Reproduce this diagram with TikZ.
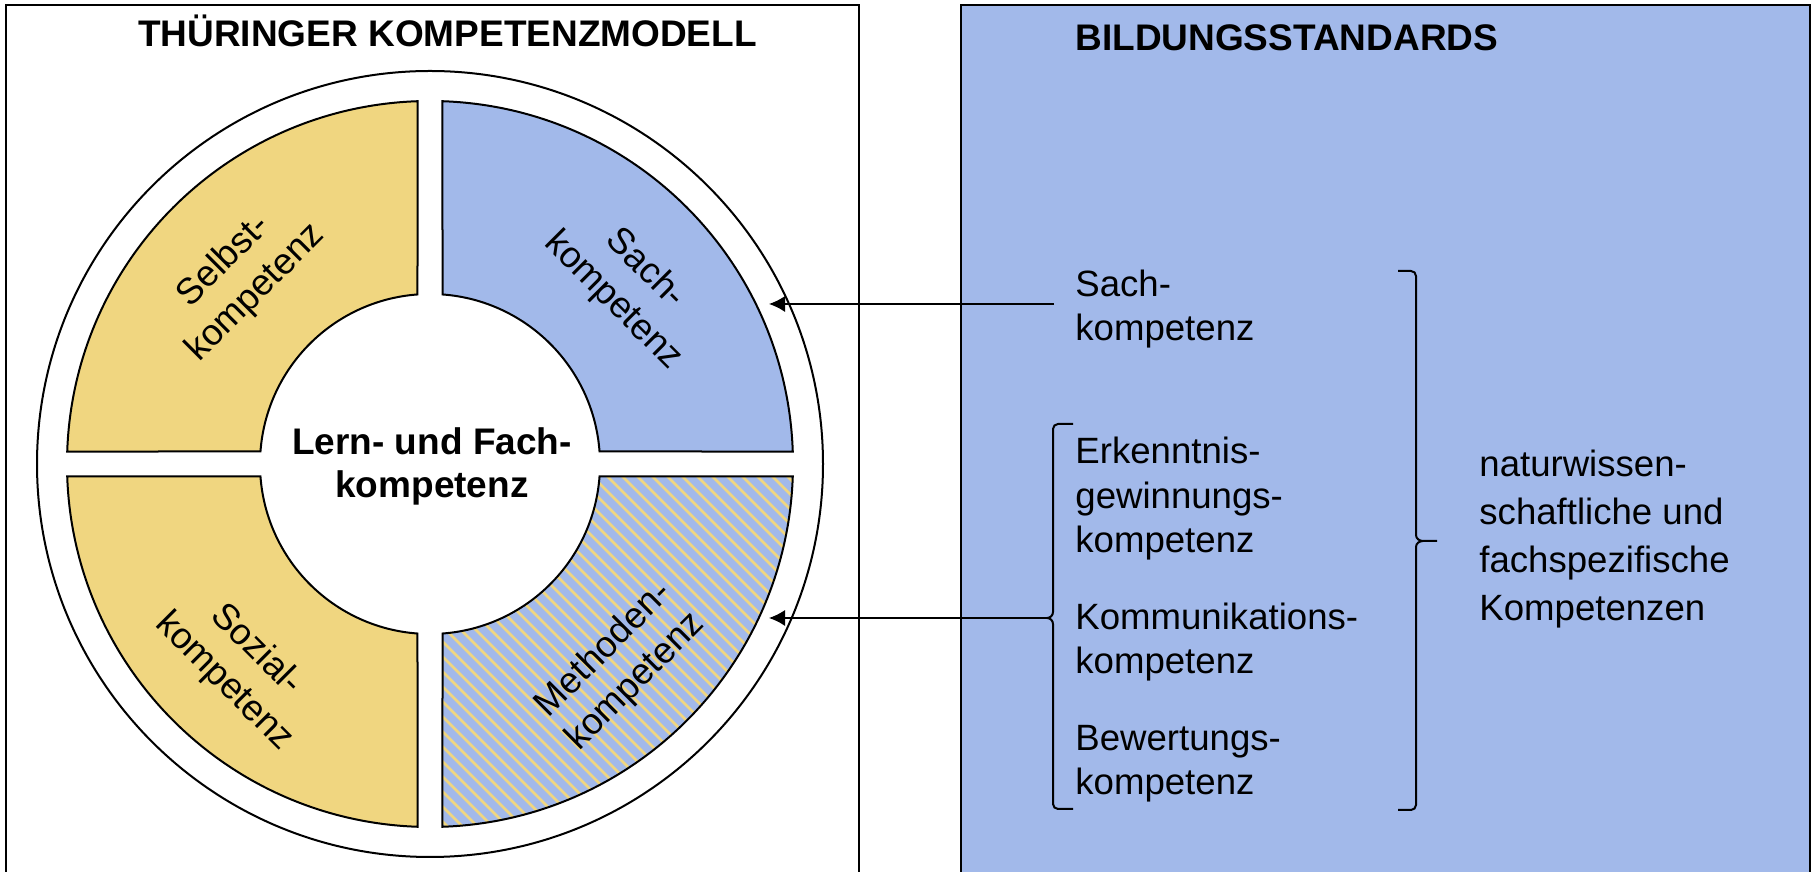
\documentclass[tikz,border=0pt]{standalone}
\usepackage{fontspec}
\setmainfont{Liberation Sans}
\usetikzlibrary{arrows.meta}

\definecolor{sachblau}{RGB}{162,185,234}
\definecolor{selbstgelb}{RGB}{240,214,128}

\tikzset{
    rahmen/.style={line width=1.2pt},
    segment/.style={line width=1pt},
    streifen/.style={selbstgelb, line width=1.35pt},
    klammer/.style={line width=1pt},
    pfeil/.style={line width=0.7pt, -{Latex[length=8pt, width=8pt]}},
    titel/.style={font=\fontsize{18.5}{21.5}\selectfont\bfseries, inner sep=0pt},
    beschriftung/.style={font=\fontsize{18.3}{22.5}\selectfont, align=center, inner sep=0pt},
    liste/.style={font=\fontsize{18.3}{22.3}\selectfont, align=left, inner sep=0pt}
}

\begin{document}
\begin{tikzpicture}[x=0.5pt, y=0.5pt]
    \path[use as bounding box] (0,0) rectangle (1812,872);

    % Thueringer Kompetenzmodell
    \draw[rahmen] (6,0) -- (6,867) -- (859,867) -- (859,0);
    \node[titel, anchor=base] (modell) at (447.5,825) {THÜRINGER KOMPETENZMODELL};
    \coordinate (mitte) at (430,408);
    \draw[segment, fill=white] (mitte) circle[radius=393];
    \begin{scope}[shift={(mitte)}]
        \foreach \winkel/\farbe in {0/sachblau, 90/selbstgelb, 180/selbstgelb}
            \filldraw[segment, fill=\farbe, rotate=\winkel] (85.78:170) -- (88.03:363)
                arc[start angle=88.03, end angle=1.97, radius=363] -- (4.22:170)
                arc[start angle=4.22, end angle=85.78, radius=170] -- cycle;
        \begin{scope}
            \clip (-85.78:170) -- (-88.03:363)
                arc[start angle=-88.03, end angle=-1.97, radius=363] -- (-4.22:170)
                arc[start angle=-4.22, end angle=-85.78, radius=170] -- cycle;
            \fill[sachblau] (0,0) rectangle (400,-400);
            \foreach \k in {-28,...,28}
                \draw[streifen] (\k*15-400,400) -- (\k*15+400,-400);
        \end{scope}
        \draw[segment] (-85.78:170) -- (-88.03:363)
            arc[start angle=-88.03, end angle=-1.97, radius=363] -- (-4.22:170)
            arc[start angle=-4.22, end angle=-85.78, radius=170] -- cycle;
    \end{scope}
    \node[beschriftung, rotate=45] (selbst) at (240,595) {Selbst-\\kompetenz};
    \node[beschriftung, rotate=-45] (sach) at (629,587) {Sach-\\kompetenz};
    \node[beschriftung, rotate=-45] (sozial) at (240,206) {Sozial-\\kompetenz};
    \node[beschriftung, rotate=45] (methoden) at (620,206) {Methoden-\\kompetenz};
    \node[titel, align=center, anchor=base] (kern) at (432,374) {Lern- und Fach-\\kompetenz};

    % Bildungsstandards
    \fill[sachblau] (961,0) rectangle (1810,867);
    \draw[rahmen] (961,0) -- (961,867) -- (1810,867) -- (1810,0);
    \node[titel, anchor=base west] (standards) at (1075,821) {BILDUNGSSTANDARDS};
    \node[liste, anchor=base west] (sachR) at (1075,531) {Sach-\\kompetenz};
    \node[liste, anchor=base west] (erkenntnis) at (1075,319) {Erkenntnis-\\gewinnungs-\\kompetenz};
    \node[liste, anchor=base west] (kommunikation) at (1075,198) {Kommunikations-\\kompetenz};
    \node[liste, anchor=base west] (bewertung) at (1075,77) {Bewertungs-\\kompetenz};
    \node[liste, anchor=base west, font=\fontsize{18.3}{24}\selectfont] (natur) at (1479,251)
        {naturwissen-\\schaftliche und\\fachspezifische\\Kompetenzen};

    \draw[klammer] (1398,601) -- (1411,601) to[out=0,in=90] (1416,596) -- (1416,337)
        to[out=-90,in=180] (1423,331) -- (1437,331);
    \draw[klammer] (1423,331) to[out=180,in=90] (1416,325) -- (1416,67)
        to[out=-90,in=0] (1411,62) -- (1398,62);
    \draw[klammer] (1073,448) -- (1058,448) to[out=180,in=90] (1053,443) -- (1053,260)
        to[out=-90,in=0] (1047,254);
    \draw[klammer] (1047,254) to[out=0,in=90] (1053,248) -- (1053,68)
        to[out=-90,in=180] (1058,63) -- (1073,63);

    \coordinate (sachstart) at (1054,568);
    \coordinate (sachrand) at (769,568);
    \coordinate (klammerspitze) at (1047,254);
    \coordinate (methodenrand) at (769,254);
    \draw[pfeil] (sachstart) -- (sachrand);
    \draw[pfeil] (klammerspitze) -- (methodenrand);
\end{tikzpicture}
\end{document}
